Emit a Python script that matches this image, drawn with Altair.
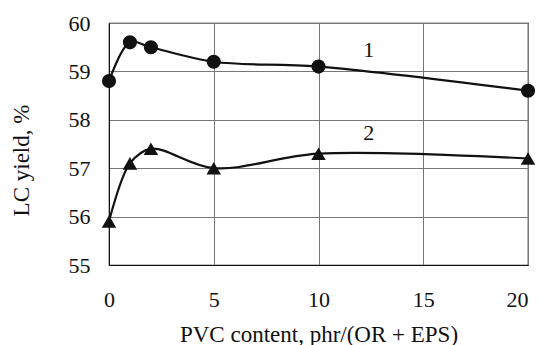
import altair as alt
import pandas as pd

x_vals = [0, 1, 2, 5, 10, 20]
s1 = [58.8, 59.6, 59.5, 59.2, 59.1, 58.6]
s2 = [55.9, 57.1, 57.4, 57.0, 57.3, 57.2]
label_text = ["1", "2"]
label_x = [12.4, 12.4]
label_y = [59.44, 57.73]

df = pd.DataFrame({
    "x": x_vals * 2,
    "y": s1 + s2,
    "s": ["1"] * len(x_vals) + ["2"] * len(x_vals),
})
lab = pd.DataFrame({"x": label_x, "y": label_y, "t": label_text})

FONT = "Liberation Serif, Times New Roman, serif"
xs = alt.Scale(domain=[0, 20], nice=False)
ys = alt.Scale(domain=[55, 60], nice=False, zero=False)

xenc = alt.X("x:Q", scale=xs, title="PVC content, phr/(OR + EPS)",
             axis=alt.Axis(values=[0, 5, 10, 15, 20], ticks=False, labelPadding=24,
                           labelFlush=False,
                           labelAlign={"condition": {"test": "datum.value == 20", "value": "right"},
                                       "value": "center"},
                           titlePadding=13, grid=True))
yenc = alt.Y("y:Q", scale=ys, title="LC yield, %",
             axis=alt.Axis(values=[55, 56, 57, 58, 59, 60], ticks=False, labelPadding=19,
                           labelFlush=False, titlePadding=35, titleY=137, grid=True))

lines = alt.Chart(df).mark_line(interpolate="catmull-rom", color="#111", strokeWidth=2.2).encode(
    x=xenc, y=yenc, detail="s:N")
pts1 = alt.Chart(df[df.s == "1"]).mark_point(shape="circle", filled=True, size=200, color="#111", opacity=1).encode(
    x="x:Q", y="y:Q")
pts2 = alt.Chart(df[df.s == "2"]).mark_point(shape="triangle-up", filled=True, size=210, color="#111", opacity=1).encode(
    x="x:Q", y="y:Q")
txt = alt.Chart(lab).mark_text(font=FONT, fontSize=22, color="#111").encode(
    x="x:Q", y="y:Q", text="t:N")

chart = alt.layer(lines, pts1, pts2, txt).properties(
    width=419, height=242,
    autosize=alt.AutoSizeParams(type="none"),
    padding={"left": 101, "top": 15, "right": 7, "bottom": 80},
).configure_view(stroke="#111", strokeWidth=1.2).configure_axis(
    labelFont=FONT, titleFont=FONT, labelFontSize=22, titleFontSize=23,
    labelColor="#111", titleColor="#111", titleFontWeight="normal",
    gridColor="#777", gridWidth=1, gridOpacity=1, domainColor="#111",
)

chart.save("out.html", embed_options={"renderer": "svg", "actions": False})
